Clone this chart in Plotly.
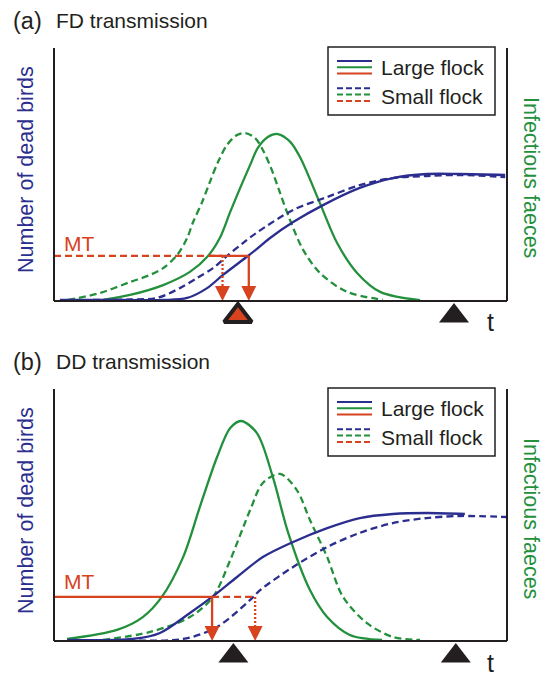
import plotly.graph_objects as go

# ---------------- DATA (time in % of axis width, value in % of axis height) ----------------
# Panel (a) FD transmission
a_green_large_t = [10.8, 16.8, 24.1, 30.0, 34.0, 36.6, 38.9, 41.1, 43.3, 45.0, 47.2, 49.4, 52.1, 54.3, 58.7, 62.5, 66.9, 72.0, 80.8]
a_green_large_v = [0.4, 2.4, 6.3, 11.5, 17.8, 24.9, 35.2, 44.7, 53.8, 60.5, 64.8, 66.0, 63.0, 56.9, 38.7, 22.9, 11.1, 3.6, 0.3]
a_green_small_t = [3.1, 10.2, 16.8, 21.2, 24.1, 27.2, 29.4, 30.7, 32.7, 34.4, 36.2, 38.2, 40.4, 42.2, 44.4, 46.1, 47.9, 49.9, 52.1, 55.0, 58.7, 64.7, 72.6]
a_green_small_v = [0.4, 3.2, 7.5, 10.3, 13.0, 18.2, 24.9, 31.2, 39.1, 47.0, 54.9, 61.7, 65.6, 66.4, 64.4, 59.7, 52.6, 42.7, 32.0, 20.2, 11.1, 3.6, 0.5]
a_blue_large_t = [1.3, 14.6, 24.1, 29.4, 33.8, 37.3, 42.8, 45.0, 47.7, 52.8, 59.4, 67.5, 74.8, 82.3, 89.6, 99.6]
a_blue_large_v = [0.4, 0.4, 0.4, 1.2, 5.1, 10.3, 17.8, 20.9, 24.9, 31.2, 37.9, 44.7, 48.6, 50.2, 50.2, 49.8]
a_blue_small_t = [8.6, 16.8, 22.7, 27.8, 31.6, 35.1, 38.2, 41.7, 45.0, 52.8, 60.3, 67.5, 74.8, 82.3, 89.6, 99.6]
a_blue_small_v = [0.4, 0.6, 1.2, 5.1, 9.1, 13.0, 17.8, 22.9, 27.3, 36.0, 41.1, 45.8, 48.6, 49.4, 49.8, 49.0]
a_mt = 17.8
a_arrow_large_t = 43.0
a_arrow_small_t = 37.2
a_mt_solid_start_t = 34.4
a_tri_t = [40.6, 88.3]

# Panel (b) DD transmission
b_green_large_t = [2.9, 13.9, 19.6, 23.8, 28.5, 32.2, 36.0, 38.9, 41.3, 44.8, 48.3, 51.7, 56.5, 60.3, 65.3, 72.4]
b_green_large_v = [0.8, 4.4, 9.5, 17.5, 33.3, 53.2, 73.0, 84.5, 87.3, 82.5, 65.1, 42.9, 20.2, 9.5, 2.4, 0.4]
b_green_small_t = [10.8, 21.2, 30.0, 35.1, 38.9, 43.3, 46.1, 49.9, 53.6, 56.5, 60.3, 63.8, 69.1, 74.8, 80.8]
b_green_small_v = [0.4, 3.6, 9.5, 17.5, 32.1, 52.0, 62.7, 66.3, 59.9, 48.0, 33.3, 17.5, 7.1, 1.6, 0.4]
b_blue_large_t = [2.9, 17.4, 23.4, 30.0, 34.9, 40.4, 46.1, 52.8, 60.3, 67.5, 74.8, 82.3, 90.7]
b_blue_large_v = [0.4, 0.8, 3.2, 11.1, 17.5, 25.4, 33.3, 39.3, 44.8, 48.8, 50.4, 50.8, 50.4]
b_blue_small_t = [13.9, 28.5, 36.0, 43.3, 45.5, 52.8, 60.3, 67.5, 74.8, 82.3, 89.6, 100.0]
b_blue_small_v = [0.4, 0.8, 5.6, 16.3, 20.2, 29.4, 37.3, 42.9, 46.8, 48.8, 49.6, 49.2]
b_mt = 17.5
b_arrow_large_t = 34.9
b_arrow_small_t = 44.4
b_tri_t = [39.6, 88.7]

panel_titles = [("(a)", "FD transmission"), ("(b)", "DD transmission")]
legend_labels = ["Large flock", "Small flock"]
y_left_title = "Number of dead birds"
y_right_title = "Infectious faeces"
mt_label = "MT"
t_label = "t"

# ---------------- STYLE ----------------
W, H = 548, 676
BLUE = "#2B2E8E"
GREEN = "#23903C"
RED = "#D6431E"
BLACK = "#231F20"
FONT = "Liberation Sans, Arial, sans-serif"
LW = 2.3
DASH = "7px,4px"
DOT = "2px,2px"
BELOW_PX = 34          # extra axis room below the frame for the triangles
TRI_PX = 15            # triangle centre below frame (px)

X0, X1 = 54, 507
panels = [
    dict(top=48, bottom=301, dy=0),
    dict(top=389, bottom=641, dy=341),
]

fig = go.Figure()

def px2x(px):
    return px / W

def px2y(py):
    return 1 - py / H

layout_axes = {}
for i, p in enumerate(panels):
    sfx = "" if i == 0 else str(i + 1)
    per_px = 100.0 / (p["bottom"] - p["top"])
    p["per_px"] = per_px
    layout_axes["xaxis" + sfx] = dict(domain=[px2x(X0), px2x(X1)], range=[0, 100], visible=False,
                                      anchor="y" + sfx, fixedrange=True)
    layout_axes["yaxis" + sfx] = dict(domain=[px2y(p["bottom"] + BELOW_PX), px2y(p["top"])],
                                      range=[-BELOW_PX * per_px, 100],
                                      visible=False, anchor="x" + sfx, fixedrange=True)
fig.update_layout(**layout_axes)

def line(xs, ys, color, dash, xa, ya, width=LW, shape="spline"):
    fig.add_trace(go.Scatter(x=xs, y=ys, mode="lines", xaxis=xa, yaxis=ya,
                             line=dict(color=color, width=width, dash=dash, shape=shape, smoothing=0.9),
                             showlegend=False, hoverinfo="skip", cliponaxis=False))

def panel(idx, gl_t, gl_v, gs_t, gs_v, bl_t, bl_v, bs_t, bs_v, mt, arr_l, arr_s, tri_t, mt_dashed_first):
    xa = "x" if idx == 0 else "x2"
    ya = "y" if idx == 0 else "y2"
    tri_y = -TRI_PX * panels[idx]["per_px"]
    line(gs_t, gs_v, GREEN, DASH, xa, ya)
    line(gl_t, gl_v, GREEN, "solid", xa, ya)
    line(bs_t, bs_v, BLUE, DASH, xa, ya)
    line(bl_t, bl_v, BLUE, "solid", xa, ya)
    # MT threshold lines
    if mt_dashed_first:
        line([0, arr_s], [mt, mt], RED, DASH, xa, ya, shape="linear")
        line([a_mt_solid_start_t, arr_l], [mt, mt], RED, "solid", xa, ya, shape="linear")
    else:
        line([0, arr_l], [mt, mt], RED, "solid", xa, ya, shape="linear")
        line([arr_l, arr_s], [mt, mt], RED, DASH, xa, ya, shape="linear")
    # vertical arrows
    line([arr_l, arr_l], [mt, 3], RED, "solid", xa, ya, shape="linear")
    line([arr_s, arr_s], [mt, 3], RED, DOT, xa, ya, shape="linear")
    fig.add_trace(go.Scatter(x=[arr_l, arr_s], y=[0, 0], mode="markers", xaxis=xa, yaxis=ya,
                             marker=dict(symbol="arrow-down", size=15, color=RED, line=dict(width=0)),
                             showlegend=False, hoverinfo="skip", cliponaxis=False))
    # time triangles
    if idx == 0:
        fig.add_trace(go.Scatter(x=[tri_t[0]], y=[tri_y], mode="markers", xaxis=xa, yaxis=ya,
                                 marker=dict(symbol="triangle-up", size=24, color=RED,
                                             line=dict(width=4, color=BLACK)),
                                 showlegend=False, hoverinfo="skip", cliponaxis=False))
        fig.add_trace(go.Scatter(x=[tri_t[1]], y=[tri_y], mode="markers", xaxis=xa, yaxis=ya,
                                 marker=dict(symbol="triangle-up", size=26, color=BLACK, line=dict(width=0)),
                                 showlegend=False, hoverinfo="skip", cliponaxis=False))
    else:
        fig.add_trace(go.Scatter(x=tri_t, y=[tri_y, tri_y], mode="markers", xaxis=xa, yaxis=ya,
                                 marker=dict(symbol="triangle-up", size=26, color=BLACK, line=dict(width=0)),
                                 showlegend=False, hoverinfo="skip", cliponaxis=False))

panel(0, a_green_large_t, a_green_large_v, a_green_small_t, a_green_small_v,
      a_blue_large_t, a_blue_large_v, a_blue_small_t, a_blue_small_v,
      a_mt, a_arrow_large_t, a_arrow_small_t, a_tri_t, True)
panel(1, b_green_large_t, b_green_large_v, b_green_small_t, b_green_small_v,
      b_blue_large_t, b_blue_large_v, b_blue_small_t, b_blue_small_v,
      b_mt, b_arrow_large_t, b_arrow_small_t, b_tri_t, False)

shapes = []
annotations = []
for i, p in enumerate(panels):
    top, bot, dy = p["top"], p["bottom"], p["dy"]
    frame = dict(type="line", xref="paper", yref="paper", line=dict(color=BLACK, width=2))
    shapes.append({**frame, "x0": px2x(X0), "x1": px2x(X0), "y0": px2y(bot), "y1": px2y(top)})
    shapes.append({**frame, "x0": px2x(X1), "x1": px2x(X1), "y0": px2y(bot), "y1": px2y(top)})
    shapes.append({**frame, "x0": px2x(X0), "x1": px2x(X1), "y0": px2y(bot), "y1": px2y(bot)})
    # legend box
    shapes.append(dict(type="rect", xref="paper", yref="paper",
                       x0=px2x(328), x1=px2x(495), y0=px2y(115 + dy), y1=px2y(47 + dy),
                       line=dict(color=BLACK, width=1.5), fillcolor="white"))
    for r, (base, text_y, dsh) in enumerate([(61, 67.5, None), (88.3, 96, "dash")]):
        for k, c in enumerate([BLUE, GREEN, RED]):
            yy = base + dy + 6.3 * k
            ln = dict(color=c, width=2)
            if dsh:
                ln["dash"] = "6px,3px"
            shapes.append(dict(type="line", xref="paper", yref="paper",
                               x0=px2x(337), x1=px2x(372), y0=px2y(yy), y1=px2y(yy), line=ln))
        annotations.append(dict(text=legend_labels[r], xref="paper", yref="paper",
                                x=px2x(379), y=px2y(text_y + dy), xanchor="left", yanchor="middle",
                                showarrow=False, font=dict(family=FONT, size=21, color=BLACK)))
    # titles
    annotations.append(dict(text=panel_titles[i][0], xref="paper", yref="paper", x=px2x(11),
                            y=px2y(21 + dy), xanchor="left", yanchor="middle", showarrow=False,
                            font=dict(family=FONT, size=23.5, color=BLACK)))
    annotations.append(dict(text=panel_titles[i][1], xref="paper", yref="paper", x=px2x(54),
                            y=px2y(20 + dy), xanchor="left", yanchor="middle", showarrow=False,
                            font=dict(family=FONT, size=21, color=BLACK)))
    annotations.append(dict(text=y_left_title, xref="paper", yref="paper", x=px2x(26),
                            y=px2y(170 + dy), xanchor="center", yanchor="middle", textangle=-90,
                            showarrow=False, font=dict(family=FONT, size=21.5, color=BLUE)))
    annotations.append(dict(text=y_right_title, xref="paper", yref="paper", x=px2x(531),
                            y=px2y(177 + dy), xanchor="center", yanchor="middle", textangle=90,
                            showarrow=False, font=dict(family=FONT, size=21.5, color=GREEN)))
    annotations.append(dict(text=mt_label, xref="paper", yref="paper", x=px2x(79),
                            y=px2y(243 + dy - (3 if i else 0)), xanchor="center", yanchor="middle",
                            showarrow=False, font=dict(family=FONT, size=21, color=RED)))
    annotations.append(dict(text=t_label, xref="paper", yref="paper", x=px2x(490),
                            y=px2y(322 + dy), xanchor="center", yanchor="middle",
                            showarrow=False, font=dict(family=FONT, size=25, color=BLACK)))

fig.update_layout(width=W, height=H, margin=dict(l=0, r=0, t=0, b=0),
                  paper_bgcolor="white", plot_bgcolor="white",
                  shapes=shapes, annotations=annotations, showlegend=False)

fig.write_html("out.html", config={"displayModeBar": False},
               post_script="document.body.style.margin='0';document.body.style.overflow='hidden';")
